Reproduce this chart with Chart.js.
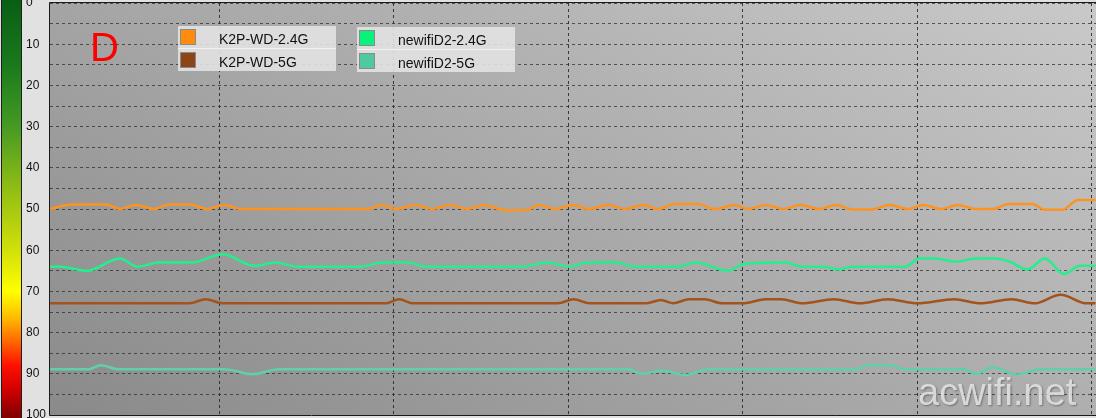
<!DOCTYPE html>
<html>
<head>
<meta charset="utf-8">
<script src="https://cdn.jsdelivr.net/npm/chart.js@4.4.0/dist/chart.umd.min.js"></script>
<style>
  body { margin: 0; background: #e1e1e1; font-family: 'Liberation Sans', Arial, sans-serif; }
  #wrap { position: relative; width: 1096px; height: 418px; overflow: hidden; }
  #grafico { position: absolute; left: 0; top: 0; }
  .marca { position: absolute; left: 90px; top: 27px; font-size: 40px; line-height: 40px; color: #ff0000; }
  .caixa { position: absolute; width: 158px; background: rgba(226,226,226,0.9); }
  .linha { position: relative; height: 22px; }
  .linha + .linha { border-top: 1px solid #f2f2f2; height: 22px; }
  .quad { position: absolute; left: 2px; top: 3px; width: 14px; height: 14px; border: 1px solid #8a8a8a; }
  .nome { position: absolute; left: 41px; top: 0; line-height: 22px; padding-top: 2px; font-size: 14px; color: #111; }
  .site { position: absolute; left: 918px; top: 373px; font-size: 38px; line-height: 38px; color: rgba(232,232,232,0.85);
          text-shadow: 1px 1px 2px rgba(0,0,0,0.35); }
</style>
</head>
<body>
<div id="wrap">
  <canvas id="grafico" width="1096" height="418"></canvas>
  <div class="marca">D</div>
  <div id="legenda"></div>
  <div class="site">acwifi.net</div>
</div>
<script>
// 🔹 Dados (tempo em s, sinal em %)
const tempoK2P24 = [0.3, 1.5, 3.5, 4.3, 5.2, 6.3, 7.1, 8.3, 9.3, 10.3, 11.2, 18.5, 19.3, 20.1, 21.2, 22.2, 23.2, 24.2, 25.2,
  26.1, 26.9, 27.7, 28.3, 29.2, 30.3, 31.1, 32.3, 33.2, 34.3, 35.1, 36.1, 37.4, 38.4, 39.5, 40.3, 41.3, 42.3, 43.3, 44.4,
  45.3, 46.3, 47.4, 48.4, 49.5, 50.3, 51.4, 52.3, 53.3, 54.3, 55.2, 56.6, 57.3, 58.3, 59.2, 60.2];
const sinalK2P24 = [50, 48.9, 48.9, 50, 49, 50, 48.9, 48.9, 50, 49, 50, 50, 49, 50, 49, 50, 49, 50, 49,
  50.1, 50.3, 50.1, 49, 50, 49, 50, 49, 50, 49, 50, 48.8, 48.8, 50, 49, 50, 49, 50, 49, 50,
  49, 50.1, 50.1, 49, 50, 49, 50, 49, 50, 50, 48.8, 48.8, 50.2, 50.2, 47.8, 47.8];

const tempoK2P5 = [0.3, 8.3, 9.2, 10.2, 19.5, 20.3, 21.1, 29.4, 30.3, 31.2, 34.4, 35.3, 36.0, 36.9, 37.8, 38.8, 40.0,
  41.3, 42.2, 43.4, 45.2, 46.7, 48.3, 50.0, 52.1, 53.6, 55.4, 56.7, 58.2, 59.7, 60.2];
const sinalK2P5 = [72.9, 72.9, 71.9, 72.9, 72.9, 71.9, 72.9, 72.9, 71.9, 72.9, 72.9, 72.1, 72.9, 71.9, 71.9, 72.9, 72.9,
  71.9, 71.9, 72.9, 71.9, 72.9, 71.9, 72.9, 71.9, 72.9, 71.9, 72.9, 70.8, 72.9, 72.9];

const tempoNewifi24 = [0.3, 0.9, 2.4, 4.3, 5.3, 6.5, 8.4, 10.2, 12.0, 13.2, 14.5, 18.1, 19.3, 20.8, 21.8, 27.3, 28.8,
  30.1, 31.1, 32.7, 33.8, 36.3, 37.3, 39.1, 40.1, 42.4, 43.4, 44.7, 45.4, 46.3, 49.3, 50.1, 51.0, 52.2, 53.3, 54.4,
  55.3, 56.3, 57.3, 58.4, 59.3, 60.2];
const sinalNewifi24 = [64, 64, 65, 62, 64, 63, 63, 61, 63.8, 63, 64, 64, 63, 63, 64, 64, 63,
  64, 63, 63, 64, 64, 63, 65, 63.3, 63, 64, 64, 64.7, 64, 64, 62, 62, 62.8, 62, 62,
  62.8, 64.7, 62, 65.8, 63.8, 63.8];

const tempoNewifi5 = [0.3, 2.5, 3.2, 4.2, 10.3, 11.9, 13.4, 33.4, 34.3, 35.3, 36.7, 38.0, 46.5, 47.2, 48.4, 49.2,
  52.6, 53.4, 54.3, 55.7, 57.0, 60.2];
const sinalNewifi5 = [88.9, 88.9, 87.9, 88.9, 88.9, 90.1, 88.9, 88.9, 90, 89.2, 90.3, 88.9, 88.9, 87.9, 87.9, 88.9,
  88.9, 90, 88.4, 90.2, 88.9, 88.9];

const nomesSeries = ['K2P-WD-2.4G', 'K2P-WD-5G', 'newifiD2-2.4G', 'newifiD2-5G'];
const coresLinhas = ['#ff931f', '#a3531c', '#22f08c', '#5ed0aa'];
const coresLegenda = ['#ff8c0c', '#8c4514', '#08f27c', '#4ec9a0'];

// linhas de grade (vertical a cada 10 s, horizontal a cada 5 %)
const marcasTempo = [10, 20, 30, 40, 50, 60];
const linhasNivel = [0, 5, 10, 15, 20, 25, 30, 35, 40, 45, 50, 55, 60, 65, 70, 75, 80, 85, 90, 95, 100];

// escala de cores da barra lateral (nível -> cor)
const paradasBarra = [[0, '#0a5f14'], [15, '#197a1c'], [30, '#469a24'], [45, '#90bd14'], [60, '#d2e00a'],
  [70, '#ffff00'], [76, '#ffc000'], [82, '#ff6a00'], [88, '#ff1000'], [94, '#d00000'], [100, '#860000']];

function pares(tempos, sinais) {
  return tempos.map((t, i) => ({ x: t, y: sinais[i] }));
}

const series = [
  pares(tempoK2P24, sinalK2P24),
  pares(tempoK2P5, sinalK2P5),
  pares(tempoNewifi24, sinalNewifi24),
  pares(tempoNewifi5, sinalNewifi5)
];

// 🔹 Fundo: barra de cores + degradê cinza da área do gráfico
const fundo = {
  id: 'fundo',
  beforeDraw(chart) {
    const { ctx, chartArea: a } = chart;
    const y = chart.scales.y;
    ctx.save();
    const g = ctx.createLinearGradient(0, y.getPixelForValue(0), 0, y.getPixelForValue(100));
    paradasBarra.forEach(([v, c]) => g.addColorStop(v / 100, c));
    ctx.fillStyle = g;
    ctx.fillRect(1, 0, 21, chart.height);
    ctx.strokeStyle = '#1e1e1e';
    ctx.lineWidth = 1;
    ctx.strokeRect(1.5, -1, 20, chart.height + 2);

    const w = a.right - a.left, h = a.bottom - a.top;
    const bg = ctx.createLinearGradient(a.left, a.bottom, a.left + 0.4 * w, a.bottom - 1.84 * h);
    bg.addColorStop(0, '#8a8a8a');
    bg.addColorStop(1, '#c9c9c9');
    ctx.fillStyle = bg;
    ctx.fillRect(a.left, a.top, w, h);
    ctx.restore();
  },
  afterDraw(chart) {
    const { ctx, chartArea: a } = chart;
    ctx.save();
    ctx.strokeStyle = '#1a1a1a';
    ctx.lineWidth = 1;
    ctx.beginPath();
    ctx.moveTo(a.right + 1, a.top - 0.5);
    ctx.lineTo(a.left - 0.5, a.top - 0.5);
    ctx.lineTo(a.left - 0.5, a.bottom + 0.5);
    ctx.lineTo(a.right + 1, a.bottom + 0.5);
    ctx.stroke();
    ctx.restore();
  }
};

new Chart(document.getElementById('grafico'), {
  type: 'line',
  data: {
    datasets: series.map((pts, i) => ({
      label: nomesSeries[i],
      data: pts,
      borderColor: coresLinhas[i],
      borderWidth: 2.5,
      pointRadius: 0,
      fill: false,
      cubicInterpolationMode: 'monotone'
    }))
  },
  options: {
    responsive: false,
    animation: false,
    layout: { padding: { left: 26, top: 3, right: 0, bottom: 3 } },
    plugins: { legend: { display: false }, tooltip: { enabled: false } },
    scales: {
      x: {
        type: 'linear',
        min: 0.29,
        max: 60.23,
        afterBuildTicks: s => { s.ticks = marcasTempo.map(v => ({ value: v })); },
        afterFit: s => { s.height = 0; },
        ticks: { display: false },
        grid: { color: 'rgba(35,35,35,0.85)', drawTicks: false },
        border: { display: false, dash: [3, 3] }
      },
      y: {
        reverse: true,
        min: 0,
        max: 100,
        afterBuildTicks: s => { s.ticks = linhasNivel.map(v => ({ value: v })); },
        afterFit: s => { s.width = 24; s.paddingTop = 0; s.paddingBottom = 0; },
        ticks: {
          autoSkip: false,
          crossAlign: 'far',
          color: '#111',
          font: { family: "'Liberation Sans', Arial, sans-serif", size: 12 },
          callback: v => (v % 10 === 0 ? v : '')
        },
        grid: { color: 'rgba(45,45,45,0.75)', drawTicks: false },
        border: { display: false, dash: [3, 3] }
      }
    }
  },
  plugins: [fundo]
});

// 🔹 Legenda em duas caixas (duas séries por caixa)
const legenda = document.getElementById('legenda');
[[0, 1, 178, 26], [2, 3, 357, 27]].forEach(([a, b, left, top]) => {
  const caixa = document.createElement('div');
  caixa.className = 'caixa';
  caixa.style.left = left + 'px';
  caixa.style.top = top + 'px';
  [a, b].forEach(i => {
    const linha = document.createElement('div');
    linha.className = 'linha';
    linha.innerHTML = `<div class="quad" style="background:${coresLegenda[i]}"></div><span class="nome">${nomesSeries[i]}</span>`;
    caixa.appendChild(linha);
  });
  legenda.appendChild(caixa);
});
</script>
</body>
</html>
